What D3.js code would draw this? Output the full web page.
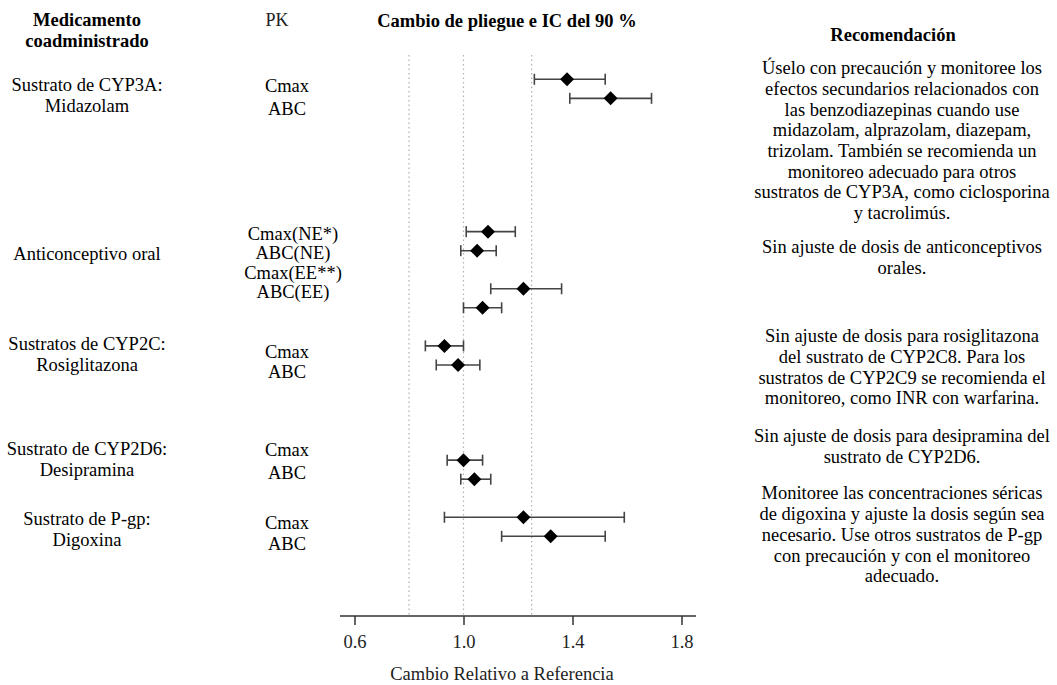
<!DOCTYPE html>
<html>
<head>
<meta charset="utf-8">
<script src="https://cdn.jsdelivr.net/npm/d3@7"></script>
<style>
  html, body { margin: 0; padding: 0; background: #fff; }
  svg { display: block; }
  text { font-family: "Liberation Serif", "Times New Roman", serif; fill: #000; }
</style>
</head>
<body>
<svg id="chart" width="1057" height="685"></svg>
<script>
// ---------------- DATA ----------------
const groupNames = [
  ["Sustrato de CYP3A:", "Midazolam"],
  ["Anticonceptivo oral"],
  ["Sustratos de CYP2C:", "Rosiglitazona"],
  ["Sustrato de CYP2D6:", "Desipramina"],
  ["Sustrato de P-gp:", "Digoxina"]
];
const pkLabels = ["Cmax", "ABC", "Cmax(NE*)", "ABC(NE)", "Cmax(EE**)", "ABC(EE)",
                  "Cmax", "ABC", "Cmax", "ABC", "Cmax", "ABC"];
const pkGroup  = [0, 0, 1, 1, 1, 1, 2, 2, 3, 3, 4, 4];
const estimate = [1.38, 1.54, 1.09, 1.05, 1.22, 1.07, 0.93, 0.98, 1.00, 1.04, 1.22, 1.32];
const lower    = [1.26, 1.39, 1.01, 0.99, 1.10, 1.00, 0.86, 0.90, 0.94, 0.99, 0.93, 1.14];
const upper    = [1.52, 1.69, 1.19, 1.12, 1.36, 1.14, 1.00, 1.06, 1.07, 1.10, 1.59, 1.52];
const refLines = [0.8, 1.0, 1.25];
const xTicks   = [0.6, 1.0, 1.4, 1.8];
const recommendations = [
  ["Úselo con precaución y monitoree los",
   "efectos secundarios relacionados con",
   "las benzodiazepinas cuando use",
   "midazolam, alprazolam, diazepam,",
   "trizolam. También se recomienda un",
   "monitoreo adecuado para otros",
   "sustratos de CYP3A, como ciclosporina",
   "y tacrolimús."],
  ["Sin ajuste de dosis de anticonceptivos",
   "orales."],
  ["Sin ajuste de dosis para rosiglitazona",
   "del sustrato de CYP2C8. Para los",
   "sustratos de CYP2C9 se recomienda el",
   "monitoreo, como INR con warfarina."],
  ["Sin ajuste de dosis para desipramina del",
   "sustrato de CYP2D6."],
  ["Monitoree las concentraciones séricas",
   "de digoxina y ajuste la dosis según sea",
   "necesario. Use otros sustratos de P-gp",
   "con precaución y con el monitoreo",
   "adecuado."]
];
const headers = {
  drug: ["Medicamento", "coadministrado"],
  pk: "PK",
  effect: "Cambio de pliegue e IC del 90 %",
  rec: "Recomendación",
  axis: "Cambio Relativo a Referencia"
};

// ---------------- LAYOUT (code, not data) ----------------
const pointRow   = [0, 1, 8, 9, 11, 12, 14, 15, 20, 21, 23, 24];
const pkLabelRow = [0.35, 1.56, 8.12, 9.12, 10.17, 11.17, 14.32, 15.37, 19.47, 20.67, 23.28, 24.4];
const groupRow   = [0.3, 9.2, 13.9, 19.4, 23.1];
const recRow     = [-0.58, 8.8, 13.5, 18.75, 21.75];

const svg = d3.select("#chart");
const x = d3.scaleLinear().domain([0.6, 1.8]).range([354.5, 681.5]);
const y = d3.scaleLinear().domain([0, 24]).range([79.3, 536.3]);
const axisY = 616;
const FS = 18.5;

// headers
svg.append("text").attr("x", 87).attr("y", 20).attr("text-anchor", "middle")
  .attr("dominant-baseline", "central").attr("font-weight", "bold").attr("font-size", FS)
  .text(headers.drug[0]);
svg.append("text").attr("x", 87).attr("y", 41).attr("text-anchor", "middle")
  .attr("dominant-baseline", "central").attr("font-weight", "bold").attr("font-size", FS)
  .text(headers.drug[1]);
svg.append("text").attr("x", 277).attr("y", 20).attr("text-anchor", "middle")
  .attr("dominant-baseline", "central").attr("font-size", 18).style("fill", "#222")
  .text(headers.pk);
svg.append("text").attr("x", 507).attr("y", 21).attr("text-anchor", "middle")
  .attr("dominant-baseline", "central").attr("font-weight", "bold").attr("font-size", FS)
  .text(headers.effect);
svg.append("text").attr("x", 893).attr("y", 35).attr("text-anchor", "middle")
  .attr("dominant-baseline", "central").attr("font-weight", "bold").attr("font-size", FS)
  .text(headers.rec);

// reference dotted lines
svg.append("g").selectAll("line").data(refLines).join("line")
  .attr("x1", d => x(d)).attr("x2", d => x(d))
  .attr("y1", 55).attr("y2", axisY)
  .attr("stroke", "#b0b0b0").attr("stroke-width", 1.2)
  .attr("stroke-dasharray", "1.5,3");

// axis
const axis = d3.axisBottom(x).tickValues(xTicks).tickFormat(d3.format(".1f"))
  .tickSizeInner(9).tickSizeOuter(0).tickPadding(10);
const gAxis = svg.append("g").attr("transform", `translate(0,${axisY})`).call(axis);
gAxis.select(".domain").remove();
gAxis.append("line").attr("x1", 340).attr("x2", 696).attr("y1", 0).attr("y2", 0)
  .attr("stroke", "#333").attr("stroke-width", 1.5);
gAxis.selectAll(".tick line").attr("stroke", "#333").attr("stroke-width", 1.5);
gAxis.selectAll(".tick text")
  .attr("font-size", FS)
  .style("fill", "#222");
svg.append("text").attr("x", 502).attr("y", 674).attr("text-anchor", "middle")
  .attr("dominant-baseline", "central").attr("font-size", FS).style("fill", "#222")
  .text(headers.axis);

// error bars
const rows = estimate.map((d, i) => ({ est: d, lo: lower[i], hi: upper[i], row: pointRow[i] }));
const gBars = svg.append("g").attr("stroke", "#444").attr("stroke-width", 1.6);
gBars.selectAll("line.ci").data(rows).join("line").attr("class", "ci")
  .attr("x1", d => x(d.lo)).attr("x2", d => x(d.hi))
  .attr("y1", d => y(d.row)).attr("y2", d => y(d.row));
gBars.selectAll("line.capL").data(rows).join("line").attr("class", "capL")
  .attr("x1", d => x(d.lo)).attr("x2", d => x(d.lo))
  .attr("y1", d => y(d.row) - 5.5).attr("y2", d => y(d.row) + 5.5);
gBars.selectAll("line.capR").data(rows).join("line").attr("class", "capR")
  .attr("x1", d => x(d.hi)).attr("x2", d => x(d.hi))
  .attr("y1", d => y(d.row) - 5.5).attr("y2", d => y(d.row) + 5.5);

// diamonds
const r = 7;
svg.append("g").selectAll("path").data(rows).join("path")
  .attr("transform", d => `translate(${x(d.est)},${y(d.row)})`)
  .attr("d", `M0,${-r}L${r},0L0,${r}L${-r},0Z`)
  .attr("fill", "#000");

// PK labels
svg.append("g").selectAll("text").data(pkLabels).join("text")
  .attr("x", (d, i) => pkGroup[i] === 1 ? 293 : 287)
  .attr("y", (d, i) => y(pkLabelRow[i]))
  .attr("text-anchor", "middle").attr("dominant-baseline", "central")
  .attr("font-size", FS)
  .text(d => d);

// group labels
groupNames.forEach((lines, g) => {
  lines.forEach((t, k) => {
    svg.append("text").attr("x", 87).attr("y", y(groupRow[g]) + k * 21)
      .attr("text-anchor", "middle").attr("dominant-baseline", "central")
      .attr("font-size", FS).text(t);
  });
});

// recommendations
recommendations.forEach((lines, g) => {
  lines.forEach((t, k) => {
    svg.append("text").attr("x", 902).attr("y", y(recRow[g]) + k * 20.7)
      .attr("text-anchor", "middle").attr("dominant-baseline", "central")
      .attr("font-size", FS).text(t);
  });
});
</script>
</body>
</html>
